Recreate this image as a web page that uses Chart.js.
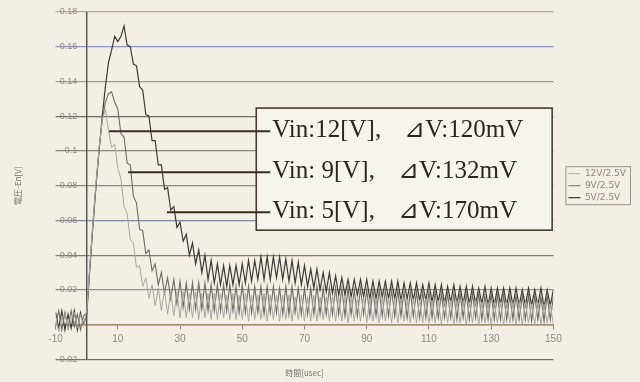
<!DOCTYPE html>
<html>
<head>
<meta charset="utf-8">
<script src="https://cdn.jsdelivr.net/npm/chart.js@4.4.0/dist/chart.umd.min.js"></script>
<style>
  html, body { margin: 0; padding: 0; background: #f2efe5; }
  #grafica { display: block; background: #f2efe5; }
</style>
</head>
<body>
<canvas id="grafica" width="640" height="382"></canvas>
<script>

// Eje de tiempo [usec], una muestra por microsegundo

const tiempo = Array.from({ length: 161 }, (_, i) => i - 10);

// Tension de salida [V]

const tension12 = [
  0.005, -0.004, 0.004, 0.006, -0.003, 0.003, 0.007, -0.002, 0.006, -0.001,
  0.008, 0.034, 0.059, 0.082, 0.102, 0.118, 0.124, 0.112, 0.102, 0.104,
  0.090, 0.084, 0.068, 0.064, 0.049, 0.047, 0.033, 0.034, 0.022, 0.027,
  0.015, 0.023, 0.011, 0.021, 0.008, 0.020, 0.006, 0.019, 0.005, 0.019,
  0.004, 0.019, 0.004, 0.018, 0.004, 0.019, 0.003, 0.018, 0.004, 0.018,
  0.003, 0.018, 0.003, 0.018, 0.004, 0.017, 0.003, 0.018, 0.003, 0.017,
  0.003, 0.018, 0.002, 0.017, 0.003, 0.017, 0.003, 0.018, 0.002, 0.017,
  0.003, 0.017, 0.002, 0.017, 0.003, 0.017, 0.002, 0.016, 0.003, 0.017,
  0.002, 0.016, 0.002, 0.017, 0.002, 0.016, 0.003, 0.016, 0.002, 0.016,
  0.002, 0.016, 0.002, 0.016, 0.001, 0.016, 0.002, 0.015, 0.002, 0.016,
  0.001, 0.015, 0.002, 0.015, 0.001, 0.015, 0.002, 0.015, 0.001, 0.015,
  0.001, 0.015, 0.002, 0.014, 0.001, 0.015, 0.001, 0.014, 0.001, 0.015,
  0.001, 0.014, 0.001, 0.014, 0.000, 0.014, 0.001, 0.014, 0.000, 0.014,
  0.001, 0.014, 0.000, 0.013, 0.001, 0.014, 0.000, 0.013, 0.001, 0.013,
  0.000, 0.013, 0.001, 0.013, 0.000, 0.013, 0.001, 0.013, 0.000, 0.013,
  0.000, 0.013, 0.001, 0.012, 0.000, 0.013, 0.000, 0.012, 0.001, 0.012,
  0.000
];

const tension9 = [
  0.000, 0.008, -0.003, 0.007, -0.002, 0.008, -0.001, 0.006, -0.003, 0.005,
  0.007, 0.033, 0.058, 0.081, 0.101, 0.118, 0.128, 0.133, 0.134, 0.128,
  0.124, 0.110, 0.108, 0.093, 0.092, 0.074, 0.070, 0.055, 0.054, 0.041,
  0.043, 0.031, 0.035, 0.023, 0.030, 0.018, 0.027, 0.015, 0.026, 0.012,
  0.025, 0.010, 0.024, 0.009, 0.024, 0.009, 0.024, 0.009, 0.024, 0.008,
  0.023, 0.008, 0.023, 0.008, 0.023, 0.008, 0.023, 0.008, 0.022, 0.007,
  0.023, 0.007, 0.022, 0.007, 0.022, 0.007, 0.022, 0.006, 0.022, 0.007,
  0.022, 0.007, 0.021, 0.006, 0.022, 0.006, 0.022, 0.007, 0.021, 0.006,
  0.021, 0.006, 0.021, 0.006, 0.022, 0.006, 0.021, 0.006, 0.021, 0.006,
  0.021, 0.006, 0.021, 0.005, 0.021, 0.006, 0.020, 0.005, 0.021, 0.006,
  0.020, 0.005, 0.020, 0.005, 0.020, 0.005, 0.020, 0.005, 0.020, 0.005,
  0.020, 0.005, 0.019, 0.004, 0.019, 0.005, 0.019, 0.004, 0.019, 0.004,
  0.019, 0.004, 0.019, 0.004, 0.018, 0.004, 0.018, 0.004, 0.018, 0.003,
  0.018, 0.004, 0.018, 0.003, 0.018, 0.004, 0.018, 0.003, 0.017, 0.003,
  0.018, 0.003, 0.017, 0.003, 0.017, 0.003, 0.017, 0.003, 0.017, 0.003,
  0.017, 0.003, 0.017, 0.002, 0.017, 0.003, 0.016, 0.002, 0.017, 0.003,
  0.016
];

const tension5 = [
  0.007, -0.002, 0.008, -0.003, 0.006, -0.002, 0.008, -0.003, 0.007, 0.000,
  0.006, 0.032, 0.057, 0.080, 0.101, 0.120, 0.137, 0.151, 0.158, 0.166,
  0.163, 0.166, 0.172, 0.161, 0.160, 0.150, 0.149, 0.137, 0.135, 0.121,
  0.120, 0.106, 0.106, 0.092, 0.092, 0.078, 0.079, 0.066, 0.068, 0.056,
  0.059, 0.048, 0.052, 0.040, 0.047, 0.035, 0.043, 0.030, 0.040, 0.026,
  0.037, 0.024, 0.035, 0.023, 0.034, 0.022, 0.034, 0.023, 0.034, 0.023,
  0.035, 0.024, 0.037, 0.025, 0.037, 0.026, 0.039, 0.026, 0.039, 0.026,
  0.039, 0.027, 0.039, 0.026, 0.038, 0.025, 0.037, 0.024, 0.036, 0.023,
  0.034, 0.022, 0.032, 0.021, 0.032, 0.020, 0.030, 0.019, 0.030, 0.018,
  0.028, 0.017, 0.027, 0.017, 0.026, 0.016, 0.026, 0.017, 0.026, 0.016,
  0.026, 0.015, 0.025, 0.015, 0.025, 0.016, 0.025, 0.015, 0.025, 0.015,
  0.025, 0.014, 0.024, 0.015, 0.024, 0.014, 0.024, 0.014, 0.023, 0.014,
  0.024, 0.013, 0.023, 0.013, 0.023, 0.012, 0.022, 0.013, 0.023, 0.012,
  0.022, 0.012, 0.022, 0.012, 0.022, 0.012, 0.021, 0.012, 0.022, 0.011,
  0.021, 0.011, 0.021, 0.012, 0.021, 0.011, 0.021, 0.011, 0.021, 0.011,
  0.020, 0.011, 0.021, 0.011, 0.020, 0.011, 0.021, 0.010, 0.020, 0.011,
  0.020
];

const series = ['12V/2.5V', '9V/2.5V', '5V/2.5V'];

// Colores de las lineas horizontales, de -0.02 a 0.18

const coloresGrid = ['#7d6a55', '#a08c66', '#6f9ba3', '#8f7565', '#7c8596',
  '#9a8474', '#7f8a7c', '#6e6a66', '#aaa15e', '#8c8fc4', '#c9a27a'];

// Recuadro con las anotaciones (en unidades de la grafica)

const recuadro = { x1: 54.5, x2: 149.6, y1: 0.1247, y2: 0.0544 };
const flechas = [
  { x: 7.2, y: 0.1114 },
  { x: 13.3, y: 0.0878 },
  { x: 25.8, y: 0.0647 }
];
const textos = [
  ['Vin:12[V],', '⊿V:120mV'],
  ['Vin: 9[V],', '⊿V:132mV'],
  ['Vin: 5[V],', '⊿V:170mV']
];

function puntos(valores) {
  return valores.map((v, i) => ({ x: tiempo[i], y: v }));
}

const anotacion = {
  id: 'anotacion',
  beforeDatasetsDraw(chart) {
    // eje vertical en t = 0
    const { ctx, chartArea, scales: { x } } = chart;
    const px = x.getPixelForValue(0);
    ctx.save();
    ctx.strokeStyle = '#5a5652';
    ctx.lineWidth = 1.5;
    ctx.beginPath();
    ctx.moveTo(px, chartArea.top);
    ctx.lineTo(px, chartArea.bottom);
    ctx.stroke();
    ctx.restore();
  },
  afterDatasetsDraw(chart) {
    const { ctx, scales: { x, y } } = chart;
    const izq = x.getPixelForValue(recuadro.x1);
    const der = x.getPixelForValue(recuadro.x2);
    const arr = y.getPixelForValue(recuadro.y1);
    const abj = y.getPixelForValue(recuadro.y2);

    ctx.save();
    ctx.fillStyle = '#f6f4ee';
    ctx.fillRect(izq, arr, der - izq, abj - arr);
    ctx.strokeStyle = '#4b3a33';
    ctx.lineWidth = 1.6;
    ctx.strokeRect(izq, arr, der - izq, abj - arr);

    ctx.font = '25px "Liberation Serif", "DejaVu Serif", serif';
    ctx.textBaseline = 'alphabetic';
    flechas.forEach((f, i) => {
      const py = y.getPixelForValue(f.y);
      ctx.strokeStyle = '#3b2e29';
      ctx.lineWidth = 2;
      ctx.beginPath();
      ctx.moveTo(x.getPixelForValue(f.x), py);
      ctx.lineTo(izq + 14, py);
      ctx.stroke();

      ctx.fillStyle = '#2b2522';
      ctx.fillText(textos[i][0], izq + 16, py + 6);
      const w = ctx.measureText(textos[i][0]).width;
      ctx.fillText(textos[i][1], izq + 16 + w + 23, py + 6);
    });
    ctx.restore();
  },
  afterDraw(chart) {
    // marco de la leyenda
    const cajas = chart.legend.legendHitBoxes;
    if (!cajas.length) return;
    const l = Math.min(...cajas.map(c => c.left)) - 3;
    const t = Math.min(...cajas.map(c => c.top)) - 3;
    const r = Math.max(...cajas.map(c => c.left + c.width)) + 4;
    const b = Math.max(...cajas.map(c => c.top + c.height)) + 2;
    const ctx = chart.ctx;
    ctx.save();
    ctx.strokeStyle = '#9a9290';
    ctx.lineWidth = 1;
    ctx.strokeRect(l + 0.5, t + 0.5, r - l, b - t);
    ctx.restore();
  }
};

const grafica = new Chart(document.getElementById('grafica'), {
  type: 'line',
  data: {
    datasets: [{
      label: series[0],
      data: puntos(tension12),
      borderColor: '#aaa7a3',
      borderWidth: 1,
    }, {
      label: series[1],
      data: puntos(tension9),
      borderColor: '#6e6b68',
      borderWidth: 1.1,
    }, {
      label: series[2],
      data: puntos(tension5),
      borderColor: '#3e3a37',
      borderWidth: 1.2,
    }]
  },
  options: {
    responsive: false,
    animation: false,
    events: [],
    elements: { point: { radius: 0 }, line: { tension: 0 } },
    layout: { padding: { top: 12, right: 4, bottom: 0, left: 0 } },
    scales: {
      x: {
        type: 'linear',
        min: -10,
        max: 150,
        position: { y: 0 },
        ticks: { stepSize: 20, padding: 5, color: '#8c8782', font: { family: 'Liberation Sans', size: 10 } },
        grid: { drawOnChartArea: false, drawTicks: true, tickLength: 4, color: '#8c8782' },
        border: { color: '#a08c66', width: 1.5 }
      },
      y: {
        min: -0.02,
        max: 0.18,
        position: { x: -3 },
        ticks: {
          stepSize: 0.02,
          color: '#8c8782',
          font: { family: 'Liberation Sans', size: 9 },
          callback: v => String(parseFloat(v.toFixed(2)))
        },
        grid: { drawTicks: false, lineWidth: 1.2, color: ctx => coloresGrid[ctx.index] || '#888' },
        border: { display: false }
      },
      derecha: {
        type: 'linear',
        position: 'right',
        display: true,
        ticks: { display: false },
        grid: { display: false },
        border: { display: false },
        afterFit(scale) { scale.width = 12; }
      }
    },
    plugins: {
      legend: {
        position: 'right',
        fullSize: false,
        labels: {
          usePointStyle: true,
          pointStyle: 'line',
          pointStyleWidth: 12,
          padding: 3,
          color: '#9a7f7f',
          font: { family: 'DejaVu Sans', size: 9 }
        }
      },
      title: {
        display: true,
        position: 'left',
        fullSize: false,
        text: '電圧-En[V]',
        color: '#77716c',
        font: { family: 'Noto Sans CJK JP', size: 8, weight: 'normal' },
        padding: { top: 13, bottom: 33 }
      },
      subtitle: {
        display: true,
        position: 'bottom',
        fullSize: false,
        text: '時間[usec]',
        color: '#77716c',
        font: { family: 'Noto Sans CJK JP', size: 8 },
        padding: { top: 9, bottom: 4 }
      },
      tooltip: { enabled: false }
    }
  },
  plugins: [anotacion]
});
</script>
</body>
</html>
